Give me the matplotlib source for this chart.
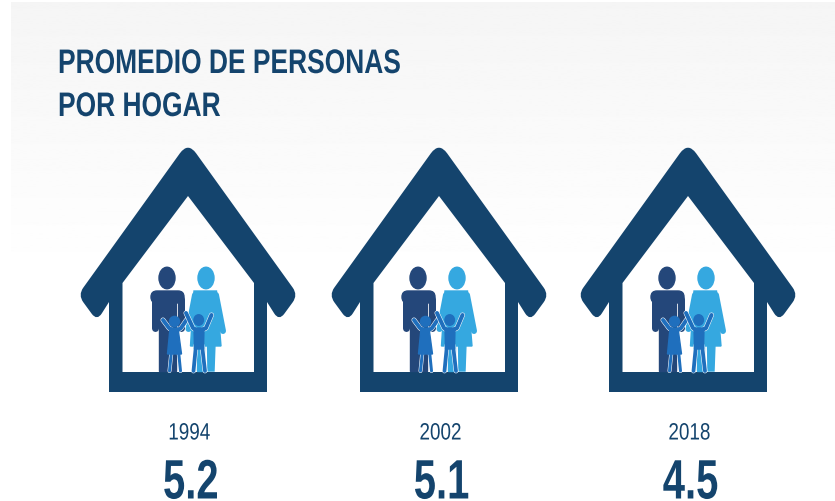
import numpy as np
import matplotlib
matplotlib.use('Agg')
import matplotlib.pyplot as plt
import matplotlib.patheffects as pe
from matplotlib.path import Path
from matplotlib.patches import PathPatch, Polygon, Ellipse, FancyBboxPatch
from matplotlib.text import Text
from matplotlib.textpath import TextPath
from matplotlib.transforms import Affine2D, Bbox

# Data
years = ['1994', '2002', '2018']
averages = ['5.2', '5.1', '4.5']
title_lines = ['PROMEDIO DE PERSONAS', 'POR HOGAR']

house_centers = [188, 439, 688]

NAVY = '#14446d'
MAN = '#24477a'
WOMAN = '#35a8e0'
KID = '#1f6fbd'
FONT = 'Liberation Sans'

fig = plt.figure(figsize=(8.35, 5.02), dpi=100)
ax = fig.add_axes([0, 0, 1, 1])
ax.set_xlim(0, 835)
ax.set_ylim(502, 0)
ax.axis('off')
PX = 72 / fig.dpi

# Background panel, light grey fading to white
fade = np.linspace(0.96, 1.0, 256).reshape(-1, 1)
ax.imshow(fade, cmap='gray', vmin=0, vmax=1, extent=(11, 835, 280, 3), aspect='auto', zorder=0)
ax.set_xlim(0, 835)
ax.set_ylim(502, 0)


class NarrowText(Text):
    # no condensed font is installed, so squeeze the glyphs sideways
    def __init__(self, *args, squeeze=1.0, **kwargs):
        super().__init__(*args, **kwargs)
        self.squeeze = squeeze

    def _glyphs(self):
        path = TextPath((0, 0), self.get_text(), size=self.get_fontsize(), prop=self.get_fontproperties())
        k = self.figure.dpi / 72
        x, y = self.get_transform().transform(self.get_position())
        width = path.get_extents().x1 * k * self.squeeze
        if self.get_ha() == 'center':
            x -= width / 2
        return path, Affine2D().scale(k * self.squeeze, k).translate(x, y)

    def get_window_extent(self, renderer=None, dpi=None):
        path, tr = self._glyphs()
        return Bbox(path.get_extents(tr))

    def draw(self, renderer):
        path, tr = self._glyphs()
        gc = renderer.new_gc()
        gc.set_linewidth(0)
        renderer.draw_path(gc, path, tr, matplotlib.colors.to_rgb(self.get_color()))
        gc.restore()


def label(x, y, s, size, squeeze, weight='normal', ha='center'):
    t = NarrowText(x, y, s, squeeze=squeeze, color=NAVY, fontsize=size, family=FONT, weight=weight,
                   ha=ha, va='baseline', zorder=3)
    ax.add_artist(t)


def rounded(points, radius):
    # closed path through the points with rounded corners
    verts, codes = [], []
    pts = [np.array(p, float) for p in points]
    n = len(pts)
    for i in range(n):
        p, prev, nxt = pts[i], pts[i - 1], pts[(i + 1) % n]
        r = radius[i]
        if r == 0:
            verts.append(p)
            codes.append(Path.LINETO)
            continue
        a = p + (prev - p) / np.linalg.norm(prev - p) * r
        b = p + (nxt - p) / np.linalg.norm(nxt - p) * r
        verts += [a, p, b]
        codes += [Path.LINETO, Path.CURVE3, Path.CURVE3]
    codes[0] = Path.MOVETO
    verts.append(verts[0])
    codes.append(Path.CLOSEPOLY)
    return verts, codes


def limb(x, y, w, color, zorder=3, outline=False):
    effects = None
    if outline:
        effects = [pe.Stroke(linewidth=(w + 1.0) * PX, foreground='white'), pe.Normal()]
    ax.plot(x, y, color=color, lw=w * PX, solid_capstyle='round', zorder=zorder, path_effects=effects)


def draw_family(c):
    # man
    ax.add_patch(Ellipse((c - 21, 279), 16, 21.5, color=MAN, zorder=3))
    ax.add_patch(FancyBboxPatch((c - 37, 292), 33, 12, boxstyle='round,pad=0,rounding_size=6', color=MAN, zorder=3))
    limb([c - 33.5, c - 33.5], [300, 329], 7, MAN)
    limb([c - 7.5, c - 7.5], [300, 329], 7, MAN)
    ax.add_patch(Polygon([(c - 29, 296), (c - 12, 296), (c - 12, 372), (c - 29, 372)], color=MAN, zorder=3))
    # woman
    ax.add_patch(Ellipse((c + 18, 279), 16, 21.5, color=WOMAN, zorder=3))
    ax.add_patch(Polygon([(c + 6, 292), (c + 28.5, 292), (c + 33, 347), (c + 2.5, 347)], color=WOMAN, zorder=3))
    limb([c + 7, c + 0.5], [296, 330], 6, WOMAN)
    limb([c + 28, c + 35], [296, 332], 6, WOMAN)
    ax.add_patch(Polygon([(c + 9, 345), (c + 16, 345), (c + 16, 372), (c + 9, 372)], color=WOMAN, zorder=3))
    ax.add_patch(Polygon([(c + 19.5, 345), (c + 27, 345), (c + 26, 372), (c + 20, 372)], color=WOMAN, zorder=3))
    # girl
    limb([c - 16, c - 19, c - 25], [331, 329, 321], 4, KID, zorder=4, outline=True)
    limb([c - 10, c - 7, c - 1.5], [331, 329, 321], 4, KID, zorder=4, outline=True)
    limb([c - 16.5, c - 18.5], [352, 372], 3, KID, zorder=4, outline=True)
    limb([c - 9.5, c - 7.5], [352, 372], 3, KID, zorder=4, outline=True)
    ax.add_patch(Polygon([(c - 18, 329), (c - 10, 329), (c - 6.5, 355), (c - 20.5, 355)], color=KID, zorder=5))
    ax.add_patch(Ellipse((c - 13.5, 322.5), 11.5, 11.5, facecolor=KID, edgecolor='none', zorder=6))
    # boy
    limb([c + 8, c + 5, c - 2], [331, 329, 314], 4, KID, zorder=4, outline=True)
    limb([c + 14, c + 18, c + 23.5], [331, 329, 316], 4, KID, zorder=4, outline=True)
    limb([c + 8, c + 5.5], [346, 372], 3.8, KID, zorder=4, outline=True)
    limb([c + 14, c + 17], [346, 372], 3.8, KID, zorder=4, outline=True)
    ax.add_patch(Polygon([(c + 6, 329), (c + 16, 329), (c + 15.5, 350), (c + 6.5, 350)], color=KID, zorder=5))
    ax.add_patch(Ellipse((c + 10.7, 321), 9.5, 10.5, color=KID, zorder=6))


def draw_house(c):
    half_outer = [(0, 143), (110, 296), (91, 322), (79, 303), (79, 393)]
    right = [(c + dx, y) for dx, y in half_outer]
    left = [(c - dx, y) for dx, y in half_outer[1:]][::-1]
    outer = right + left
    radii = [14, 9, 9, 0, 0, 0, 0, 9, 9]
    verts, codes = rounded(outer, radii)
    inner = [(c, 197), (c - 65.5, 284), (c - 65.5, 373), (c + 66, 373), (c + 66, 284)]
    verts += inner + [inner[0]]
    codes += [Path.MOVETO] + [Path.LINETO] * 4 + [Path.CLOSEPOLY]
    ax.add_patch(PathPatch(Path(verts, codes), facecolor=NAVY, edgecolor='none', zorder=2))


for c, year, avg in zip(house_centers, years, averages):
    draw_house(c)
    draw_family(c)
    label(c + 1, 440.5, year, 17, 0.8)
    label(c + 2, 499.5, avg, 40, 0.72, weight='bold')

for line, y in zip(title_lines, [74, 117]):
    label(58, y, line, 24.5, 0.775, weight='bold', ha='left')

fig.savefig('out.png', dpi=100)
